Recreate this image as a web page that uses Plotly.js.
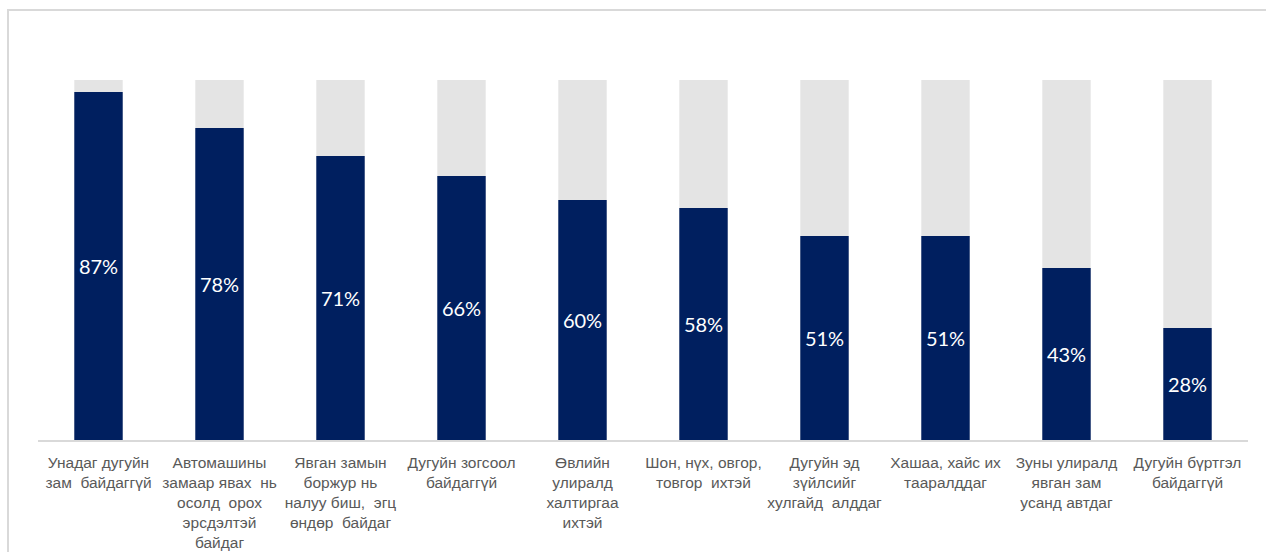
<!DOCTYPE html>
<html>
<head>
<meta charset="utf-8">
<script src="https://cdn.plot.ly/plotly-3.0.1.min.js"></script>
<style>html,body{margin:0;padding:0;background:#fff;}#chart{width:1266px;height:552px;}</style>
</head>
<body>
<div id="chart"></div>
<script>
const categories = [
  "Унадаг дугуйн<br>зам  байдаггүй",
  "Автомашины<br>замаар явах  нь<br>осолд  орох<br>эрсдэлтэй<br>байдаг",
  "Явган замын<br>боржур нь<br>налуу биш,  эгц<br>өндөр  байдаг",
  "Дугуйн зогсоол<br>байдаггүй",
  "Өвлийн<br>улиралд<br>халтиргаа<br>ихтэй",
  "Шон, нүх, овгор,<br>товгор  ихтэй",
  "Дугуйн эд<br>зүйлсийг<br>хулгайд  алддаг",
  "Хашаа, хайс их<br>тааралддаг",
  "Зуны улиралд<br>явган зам<br>усанд автдаг",
  "Дугуйн бүртгэл<br>байдаггүй"
];
const shares = [87, 78, 71, 66, 60, 58, 51, 51, 43, 28];
const backgroundTotal = [90, 90, 90, 90, 90, 90, 90, 90, 90, 90];

const traces = [
  {
    type: "bar", x: categories, y: backgroundTotal,
    marker: {color: "#e4e4e4"}, hoverinfo: "skip", showlegend: false
  },
  {
    type: "bar", x: categories, y: shares,
    marker: {color: "#001f5f"},
    text: shares.map(v => v + "%"),
    textposition: "inside", insidetextanchor: "middle",
    textfont: {family: "Lato, Open Sans, sans-serif", size: 20, color: "#ffffff"},
    hoverinfo: "skip", showlegend: false
  }
];

const layout = {
  width: 1266, height: 552,
  margin: {l: 38, r: 18, t: 40, b: 112},
  paper_bgcolor: "#ffffff", plot_bgcolor: "#ffffff",
  barmode: "overlay", bargap: 0.6,
  xaxis: {
    type: "category", showline: true, linecolor: "#d9d9d9", linewidth: 2,
    ticks: "", showgrid: false, zeroline: false, fixedrange: true,
    tickangle: 0, ticklabelstandoff: 7,
    tickfont: {family: "Liberation Sans, Arial, sans-serif", size: 15.5, color: "#595959"}
  },
  yaxis: {
    range: [0, 100], visible: false, showgrid: false, zeroline: false, fixedrange: true
  },
  shapes: [{
    type: "rect", xref: "paper", yref: "paper",
    x0: -0.0248, x1: 1.05, y0: -0.4, y1: 1.075,
    line: {color: "#d9d9d9", width: 2}, fillcolor: "rgba(0,0,0,0)", layer: "below"
  }],
  uniformtext: {mode: false}
};

Plotly.newPlot("chart", traces, layout, {displayModeBar: false, staticPlot: true});
</script>
</body>
</html>
